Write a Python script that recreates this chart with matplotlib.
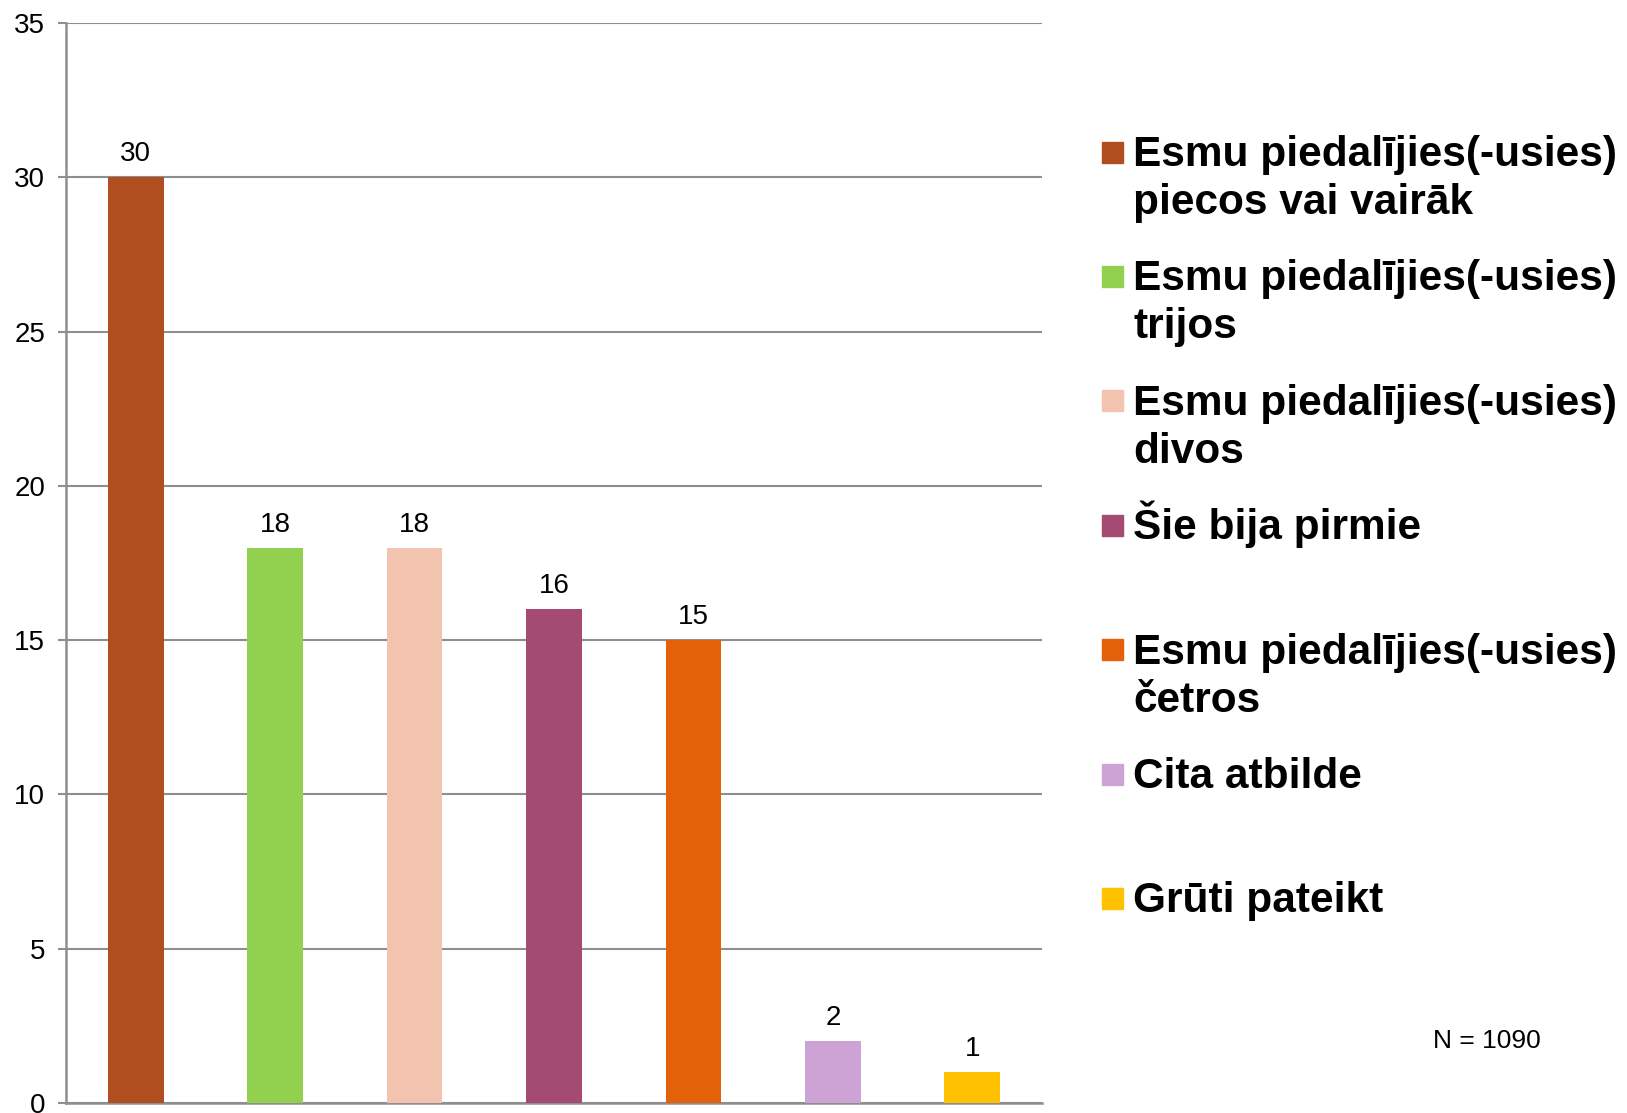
import matplotlib.pyplot as plt
from matplotlib.patches import Rectangle

plt.rcParams['font.family'] = ['Liberation Sans', 'DejaVu Sans']

# dati
categories = [
    "Esmu piedalījies(-usies)\npiecos vai vairāk",
    "Esmu piedalījies(-usies)\ntrijos",
    "Esmu piedalījies(-usies)\ndivos",
    "Šie bija pirmie",
    "Esmu piedalījies(-usies)\nčetros",
    "Cita atbilde",
    "Grūti pateikt",
]
values = [30, 18, 18, 16, 15, 2, 1]
colors = ["#B14E1F", "#92D050", "#F2C4B0", "#A34B72", "#E36209", "#CDA3D6", "#FFC000"]
y_ticks = [0, 5, 10, 15, 20, 25, 30, 35]
note = "N = 1090"

W, H = 1627, 1113
fig = plt.figure(figsize=(W / 100, H / 100), dpi=100)
ax = fig.add_axes([66 / W, 10 / H, (1042 - 66) / W, (1103 - 23) / H])

grid_c = "#8E8E8E"
x = list(range(len(values)))
ax.bar(x, values, width=0.4, color=colors, zorder=3)
ax.set_xlim(-0.5, len(values) - 0.5)
ax.set_ylim(0, 35)
ax.set_yticks(y_ticks)
ax.set_xticks([])
ax.yaxis.grid(True, color=grid_c, linewidth=1.5, zorder=0)
ax.tick_params(axis='y', length=6, width=1.5, color=grid_c, pad=9, labelsize=20)

for s in ["top", "right"]:
    ax.spines[s].set_visible(False)
for s in ["left", "bottom"]:
    ax.spines[s].set_color(grid_c)
    ax.spines[s].set_linewidth(1.8)

# vērtības virs stabiņiem
for xi, v in zip(x, values):
    ax.annotate(str(v), (xi, v), xytext=(0, 11.5), textcoords="offset points",
                ha="center", va="baseline", fontsize=20)

# leģenda (fiksēti soļi kā oriģinālā)
y0, step = 152, 124.4
for i, (lab, c) in enumerate(zip(categories, colors)):
    cy = y0 + i * step
    fig.patches.append(Rectangle((1102 / W, 1 - (cy + 10.5) / H), 21 / W, 21 / H,
                                 transform=fig.transFigure, color=c, figure=fig))
    for j, line in enumerate(lab.split("\n")):
        fig.text(1133 / W, 1 - (cy + 14 + j * 48) / H, line, fontsize=30.5,
                 fontweight="bold", va="baseline", ha="left")

fig.text(1433 / W, 1 - 1048 / H, note, fontsize=19, va="baseline", ha="left")

fig.savefig("out.png", dpi=100)
